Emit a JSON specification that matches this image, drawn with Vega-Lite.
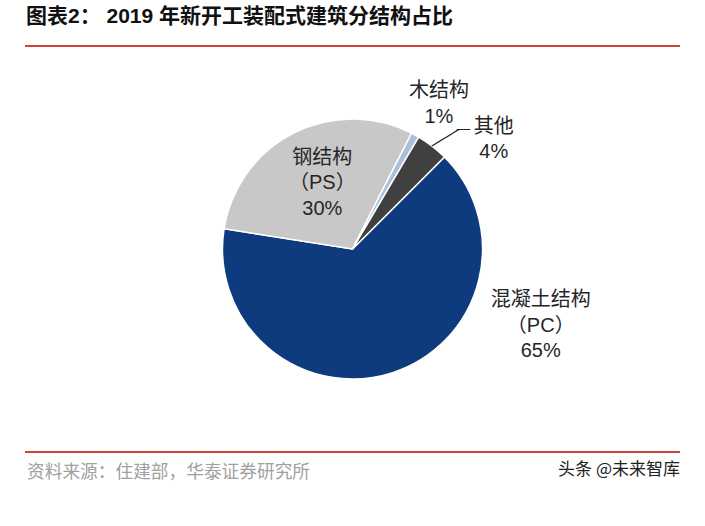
{
  "$schema": "https://vega.github.io/schema/vega-lite/v6.json",
  "width": 655,
  "height": 406,
  "autosize": {"type": "none"},
  "padding": {"left": 25, "top": 46, "right": 25, "bottom": 74},
  "background": "white",
  "config": {"view": {"stroke": null}},
  "title": {
    "text": "图表2：  2019 年新开工装配式建筑分结构占比",
    "anchor": "start",
    "frame": "group",
    "fontSize": 21,
    "fontWeight": "bold",
    "font": "Liberation Sans, Noto Sans CJK SC",
    "color": "#111111",
    "offset": 5,
    "dx": 1
  },
  "datasets": {
    "pie": [
      {"name": "混凝土结构", "value": 65, "rank": 1, "label": "混凝土结构\n（PC）\n65%"},
      {"name": "钢结构", "value": 30, "rank": 2, "label": "钢结构\n（PS）\n30%"},
      {"name": "木结构", "value": 1, "rank": 3, "label": "木结构\n1%"},
      {"name": "其他", "value": 4, "rank": 4, "label": "其他\n4%"}
    ],
    "lines": [{"edge": "top"}, {"edge": "bottom"}],
    "notes": [
      {"edge": "bottom", "side": "left", "text": "资料来源：住建部，华泰证券研究所"},
      {"edge": "bottom", "side": "right", "text": "头条 @未来智库"}
    ]
  },
  "layer": [
    {
      "data": {"name": "lines"},
      "mark": {"type": "rule", "color": "#c9453c", "strokeWidth": 2},
      "encoding": {
        "y": {"field": "edge", "type": "nominal", "scale": {"type": "point", "domain": ["top", "bottom"], "padding": 0}, "axis": null}
      }
    },
    {
      "data": {"name": "notes"},
      "transform": [{"filter": "datum.side === 'left'"}],
      "mark": {"type": "text", "align": "left", "baseline": "middle", "dx": 2, "dy": 21, "fontSize": 17.7, "font": "Noto Sans CJK SC", "color": "#a0a0a0"},
      "encoding": {
        "y": {"field": "edge", "type": "nominal", "scale": {"type": "point", "domain": ["top", "bottom"], "padding": 0}, "axis": null},
        "x": {"field": "side", "type": "nominal", "scale": {"type": "point", "domain": ["left", "right"], "padding": 0}, "axis": null},
        "text": {"field": "text", "type": "nominal"}
      }
    },
    {
      "data": {"name": "notes"},
      "transform": [{"filter": "datum.side === 'right'"}],
      "mark": {"type": "text", "align": "right", "baseline": "middle", "dx": 0, "dy": 18, "fontSize": 17, "font": "Noto Sans CJK SC", "color": "#222222"},
      "encoding": {
        "y": {"field": "edge", "type": "nominal", "scale": {"type": "point", "domain": ["top", "bottom"], "padding": 0}, "axis": null},
        "x": {"field": "side", "type": "nominal", "scale": {"type": "point", "domain": ["left", "right"], "padding": 0}, "axis": null},
        "text": {"field": "text", "type": "nominal"}
      }
    },
    {
      "data": {"name": "pie"},
      "encoding": {
        "theta": {"field": "value", "type": "quantitative", "stack": true, "scale": {"range": [0.7854, 7.0686]}},
        "order": {"field": "rank", "type": "quantitative"}
      },
      "layer": [
        {
          "mark": {"type": "arc", "outerRadius": 130, "stroke": "white", "strokeWidth": 1.5},
          "encoding": {
            "color": {
              "field": "name", "type": "nominal", "legend": null,
              "scale": {"domain": ["混凝土结构", "钢结构", "木结构", "其他"], "range": ["#0e3b7d", "#c8c8c8", "#a9c0dc", "#404040"]}
            }
          }
        },
        {
          "mark": {"type": "text", "radius": 73, "dx": 3, "dy": -26, "align": "center", "baseline": "middle", "fontSize": 20, "lineHeight": 25.5, "lineBreak": "\n", "font": "Liberation Sans, Noto Sans CJK SC", "color": "#262626"},
          "encoding": {"text": {"condition": {"test": "datum.name === '钢结构'", "field": "label", "type": "nominal"}, "value": ""}}
        },
        {
          "mark": {"type": "text", "radius": 140, "dx": 145, "dy": -82, "align": "center", "baseline": "middle", "fontSize": 20, "lineHeight": 25.5, "lineBreak": "\n", "font": "Liberation Sans, Noto Sans CJK SC", "color": "#262626"},
          "encoding": {"text": {"condition": {"test": "datum.name === '混凝土结构'", "field": "label", "type": "nominal"}, "value": ""}}
        },
        {
          "mark": {"type": "text", "radius": 171, "dx": 4, "dy": -8, "align": "center", "baseline": "middle", "fontSize": 20, "lineHeight": 25.5, "lineBreak": "\n", "font": "Liberation Sans, Noto Sans CJK SC", "color": "#262626"},
          "encoding": {"text": {"condition": {"test": "datum.name === '木结构'", "field": "label", "type": "nominal"}, "value": ""}}
        },
        {
          "mark": {"type": "text", "radius": 180, "dx": 31, "dy": 20, "align": "center", "baseline": "middle", "fontSize": 20, "lineHeight": 25.5, "lineBreak": "\n", "font": "Liberation Sans, Noto Sans CJK SC", "color": "#262626"},
          "encoding": {"text": {"condition": {"test": "datum.name === '其他'", "field": "label", "type": "nominal"}, "value": ""}}
        },
        {
          "mark": {"type": "text", "radius": 144, "angle": -31.6, "dx": 2.4, "dy": 5, "align": "center", "baseline": "middle", "fontSize": 13, "font": "DejaVu Sans Mono", "color": "#1a1a1a"},
          "encoding": {"text": {"condition": {"test": "datum.name === '其他'", "value": "────"}, "value": ""}}
        },
        {
          "mark": {"type": "text", "radius": 150, "dx": 19, "dy": 0, "align": "center", "baseline": "middle", "fontSize": 11, "font": "DejaVu Sans Mono", "color": "#1a1a1a"},
          "encoding": {"text": {"condition": {"test": "datum.name === '其他'", "value": "──"}, "value": ""}}
        }
      ]
    }
  ]
}
